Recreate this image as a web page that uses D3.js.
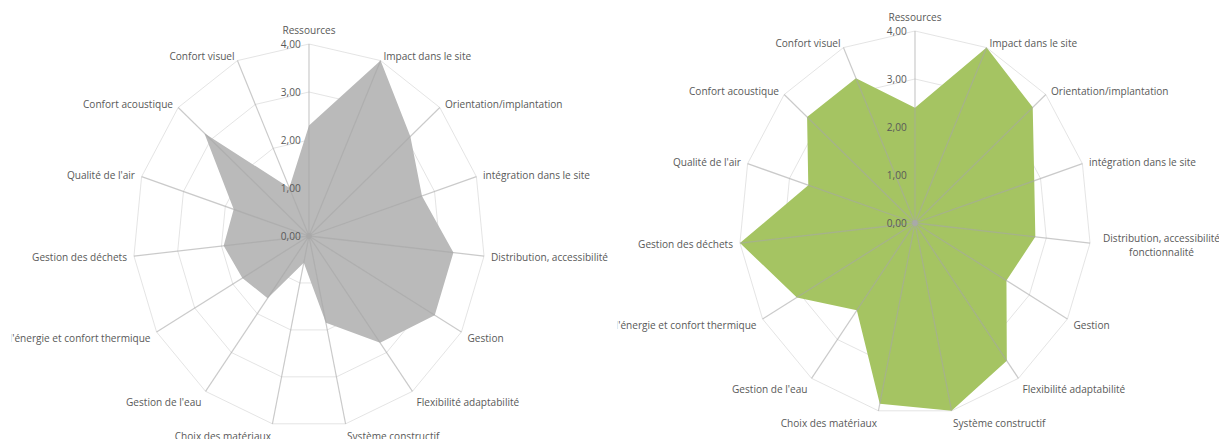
<!DOCTYPE html>
<html>
<head>
<meta charset="utf-8">
<script src="https://cdnjs.cloudflare.com/ajax/libs/d3/7.8.5/d3.min.js"></script>
<style>
  body { margin: 0; background: #fff; }
  text { font-family: "Open Sans", sans-serif; font-size: 11px; fill: #595959; }
</style>
</head>
<body>
<div id="chart"></div>
<script>
// axes, clockwise from the top
var categories = [
    "Ressources",
    "Impact dans le site",
    "Orientation/implantation",
    "intégration dans le site",
    "Distribution, accessibilité\nfonctionnalité",
    "Gestion",
    "Flexibilité adaptabilité",
    "Système constructif",
    "Choix des matériaux",
    "Gestion de l'eau",
    "Gestion de l'énergie et confort thermique",
    "Gestion des déchets",
    "Qualité de l'air",
    "Confort acoustique",
    "Confort visuel"
];

var valuesLeft  = [2.3, 4.0, 3.1, 2.7, 3.3, 3.3, 2.75, 1.85, 0.57, 1.6, 1.75, 1.95, 1.8, 3.2, 1.1];
var valuesRight = [2.4, 4.0, 3.6, 2.85, 2.75, 2.4, 3.55, 4.0, 3.85, 2.25, 3.1, 4.0, 2.55, 3.3, 3.3];

var levels = [0, 1, 2, 3, 4];
var tickLabels = ["0,00", "1,00", "2,00", "3,00", "4,00"];

var width = 1219, height = 439;
var sx = 176 / 192;   // the original picture is squeezed sideways

var panels = [
    { id: "left",  cx: 309, cy: 236, clip: [0, 0, 610, height],   values: valuesLeft,  fill: "#bababa", wrap: false },
    { id: "right", cx: 915, cy: 223, clip: [612, 0, 607, height], values: valuesRight, fill: "#a5c462", wrap: true }
];

var svg = d3.select("#chart")
    .append("svg")
    .attr("width", width)
    .attr("height", height);

var angle = d3.scaleLinear()
    .domain([0, categories.length])
    .range([0, 2 * Math.PI]);

var r = d3.scaleLinear()
    .domain([0, 4])
    .range([0, 192]);

function point(i, v) {
    var a = angle(i);
    return [r(v) * Math.sin(a), -r(v) * Math.cos(a)];
}

var ring = d3.line().curve(d3.curveLinearClosed);

panels.forEach(function (p) {
    var clipRect = svg.append("clipPath")
        .attr("id", "clip-" + p.id)
        .append("rect")
        .attr("x", p.clip[0]).attr("y", p.clip[1])
        .attr("width", p.clip[2]).attr("height", p.clip[3]);

    var g = svg.append("g")
        .attr("clip-path", "url(#clip-" + p.id + ")")
        .append("g")
        .attr("transform", "translate(" + p.cx + "," + p.cy + ") scale(" + sx + ",1)");

    // grid rings
    g.selectAll(".ring")
        .data(levels.slice(1))
        .enter().append("path")
        .attr("class", "ring")
        .attr("fill", "none")
        .attr("stroke", "#e3e3e3")
        .attr("stroke-width", 1)
        .attr("d", function (lv) {
            return ring(categories.map(function (c, i) { return point(i, lv); }));
        });

    // the series
    g.append("path")
        .datum(p.values)
        .attr("fill", p.fill)
        .attr("stroke", "none")
        .attr("d", function (d) {
            return ring(d.map(function (v, i) { return point(i, v); }));
        });

    // spokes
    g.selectAll(".spoke")
        .data(categories)
        .enter().append("line")
        .attr("class", "spoke")
        .attr("x1", 0).attr("y1", 0)
        .attr("x2", function (c, i) { return point(i, 4)[0]; })
        .attr("y2", function (c, i) { return point(i, 4)[1]; })
        .attr("stroke", "#a6a6a6")
        .attr("stroke-opacity", 0.6)
        .attr("stroke-width", 1.3);

    // centre marker
    g.append("circle")
        .attr("r", 3)
        .attr("fill", "#a9a9a9");

    // value labels on the first axis
    g.selectAll(".tick")
        .data(levels)
        .enter().append("text")
        .attr("class", "tick")
        .attr("x", -9)
        .attr("y", function (lv) { return -r(lv); })
        .attr("dy", "0.35em")
        .attr("text-anchor", "end")
        .text(function (lv, i) { return tickLabels[i]; });

    // category labels
    categories.forEach(function (c, i) {
        var a = angle(i);
        var s = Math.sin(a), co = Math.cos(a);
        var end = point(i, 4);
        var lines = p.wrap ? c.split("\n") : [c.replace("\n", " ")];
        var lx = end[0] + s * 7 / sx;
        var ly = end[1] + (co > 0 ? -co * 5 : -co * 13);
        var anchor = "start";
        if (Math.abs(s) < 0.05) { anchor = "middle"; ly = end[1] - 14; }
        else if (s < 0) anchor = "end";

        var t = g.append("text")
            .attr("text-anchor", anchor)
            .attr("y", ly - (lines.length - 1) * 6.5);

        lines.forEach(function (ln, k) {
            t.append("tspan")
                .attr("x", lx)
                .attr("dy", k == 0 ? "0.35em" : "1.3em")
                .text(ln);
        });

        if (lines.length > 1) {
            // centre the wrapped lines on each other, block starts after the axis end
            var w = d3.max(t.selectAll("tspan").nodes(), function (n) { return n.getComputedTextLength(); });
            t.attr("text-anchor", "middle");
            t.selectAll("tspan").attr("x", lx + 6 / sx + w / 2);
        }

        // the long energy label is cut just before its apostrophe in the original
        if (c.indexOf("énergie") >= 0) {
            var node = t.select("tspan").node();
            var pos = node.getStartPositionOfChar(c.indexOf("'"));
            var cut = p.cx + pos.x * sx - 0.5;
            if (cut > p.clip[0]) {
                clipRect.attr("x", cut).attr("width", p.clip[0] + p.clip[2] - cut);
            }
        }
    });
});
</script>
</body>
</html>
